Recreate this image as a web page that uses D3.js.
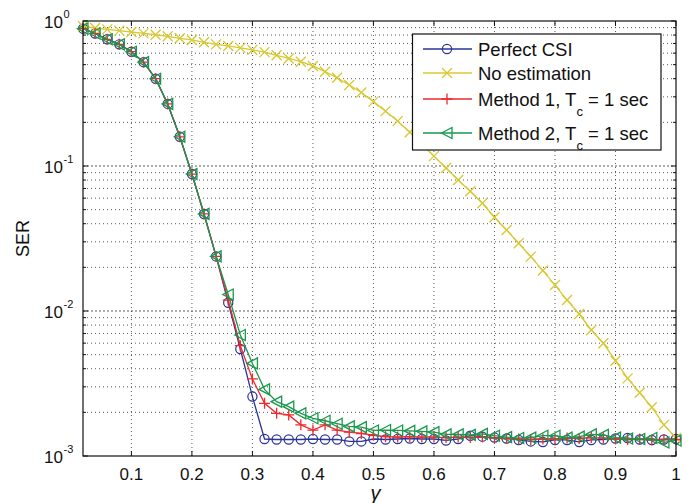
<!DOCTYPE html>
<html>
<head>
<meta charset="utf-8">
<script src="https://cdn.jsdelivr.net/npm/d3@7"></script>
<style>
  body { margin: 0; background: #fff; }
  text { font-family: "Liberation Sans", Arial, sans-serif; fill: #111; }
</style>
</head>
<body>
<div id="chart"></div>
<script>
var width = 693, height = 503;
var margin = {left: 83, right: 17, top: 21, bottom: 47};

// gamma values (x axis)
var gamma = [0.02, 0.04, 0.06, 0.08, 0.10, 0.12, 0.14, 0.16, 0.18, 0.20,
             0.22, 0.24, 0.26, 0.28, 0.30, 0.32, 0.34, 0.36, 0.38, 0.40,
             0.42, 0.44, 0.46, 0.48, 0.50, 0.52, 0.54, 0.56, 0.58, 0.60,
             0.62, 0.64, 0.66, 0.68, 0.70, 0.72, 0.74, 0.76, 0.78, 0.80,
             0.82, 0.84, 0.86, 0.88, 0.90, 0.92, 0.94, 0.96, 0.98, 1.00];

var perfectCSI = [0.885, 0.82, 0.748, 0.69, 0.614, 0.52, 0.40, 0.268, 0.159, 0.088,
                  0.0467, 0.0238, 0.0114, 0.00547, 0.00257, 0.00131, 0.00130, 0.00130, 0.00130, 0.00131,
                  0.00130, 0.00130, 0.00126, 0.00126, 0.00131, 0.00130, 0.00131, 0.00132, 0.00131, 0.00131,
                  0.00128, 0.00131, 0.00138, 0.00136, 0.00134, 0.00132, 0.00129, 0.00126, 0.00125, 0.00129,
                  0.00129, 0.00125, 0.00129, 0.00130, 0.00132, 0.00133, 0.00130, 0.00129, 0.00130, 0.00131];

var noEstimation = [0.92, 0.895, 0.876, 0.858, 0.84, 0.822, 0.804, 0.784, 0.76, 0.74,
                    0.713, 0.69, 0.673, 0.653, 0.632, 0.61, 0.58, 0.552, 0.524, 0.49,
                    0.447, 0.406, 0.362, 0.321, 0.278, 0.239, 0.204, 0.171, 0.142, 0.117,
                    0.097, 0.080, 0.067, 0.0553, 0.0443, 0.0362, 0.0293, 0.0237, 0.019, 0.0151,
                    0.0119, 0.00953, 0.0074, 0.00599, 0.00454, 0.00343, 0.00273, 0.00217, 0.00164, 0.00133];

var method1 = [0.885, 0.82, 0.748, 0.69, 0.614, 0.52, 0.40, 0.268, 0.159, 0.088,
               0.0467, 0.0238, 0.0119, 0.00577, 0.0034, 0.00231, 0.00197, 0.00192, 0.00164, 0.00151,
               0.00164, 0.00151, 0.00146, 0.00143, 0.00139, 0.00136, 0.00135, 0.00136, 0.00135, 0.00135,
               0.00134, 0.00135, 0.00134, 0.00135, 0.00133, 0.00132, 0.00131, 0.00130, 0.00131, 0.00131,
               0.00133, 0.00132, 0.00134, 0.00133, 0.00131, 0.00130, 0.00131, 0.00129, 0.00130, 0.00130];

var method2 = [0.885, 0.82, 0.748, 0.69, 0.614, 0.52, 0.40, 0.268, 0.159, 0.088,
               0.0467, 0.0238, 0.013, 0.00683, 0.00435, 0.00288, 0.00237, 0.00219, 0.00197, 0.00182,
               0.00175, 0.00167, 0.0016, 0.00158, 0.0015, 0.00151, 0.00150, 0.00149, 0.00148, 0.00146,
               0.00141, 0.00141, 0.00140, 0.00142, 0.00138, 0.00135, 0.00133, 0.00134, 0.00138, 0.00138,
               0.00134, 0.00136, 0.00141, 0.00140, 0.00134, 0.00132, 0.00131, 0.00133, 0.00124, 0.00128];

var xTicks = [0.1, 0.2, 0.3, 0.4, 0.5, 0.6, 0.7, 0.8, 0.9, 1];
var yTicks = [1e-3, 1e-2, 1e-1, 1];
var yExps = ["-3", "-2", "-1", "0"];

var series = [
  {name: "Perfect CSI", values: perfectCSI, color: "#2b3497", marker: "circle"},
  {name: "No estimation", values: noEstimation, color: "#d8c832", marker: "x"},
  {name: "Method 1, T", sub: "c", tail: " = 1 sec", values: method1, color: "#ee2a2e", marker: "plus"},
  {name: "Method 2, T", sub: "c", tail: " = 1 sec", values: method2, color: "#17994c", marker: "tri"}
];

var x = d3.scaleLinear().domain([0.02, 1]).range([margin.left, width - margin.right]);
var y = d3.scaleLog().domain([1e-3, 1]).range([height - margin.bottom, margin.top]);

var svg = d3.select("#chart").append("svg")
  .attr("width", width).attr("height", height);

var x0 = margin.left, x1 = width - margin.right, y0 = height - margin.bottom, y1 = margin.top;

// grid
var grid = svg.append("g").attr("stroke", "#333").attr("stroke-width", 0.8)
  .attr("stroke-dasharray", "1,3");
xTicks.forEach(function(t) {
  if (t >= 1) return;
  grid.append("line").attr("x1", x(t)).attr("x2", x(t)).attr("y1", y0).attr("y2", y1);
});
var minor = [];
[1e-3, 1e-2, 1e-1].forEach(function(d) {
  for (var k = 1; k <= 9; k++) minor.push(d * k);
});
minor.forEach(function(v) {
  if (v <= 1e-3) return;
  grid.append("line").attr("x1", x0).attr("x2", x1).attr("y1", y(v)).attr("y2", y(v))
    .attr("stroke-dasharray", (Math.abs(Math.log10(v) - Math.round(Math.log10(v))) < 1e-9) ? "2,2" : "1,3");
});

// ticks inside on all sides
var ticks = svg.append("g").attr("stroke", "#111").attr("stroke-width", 1);
xTicks.forEach(function(t) {
  ticks.append("line").attr("x1", x(t)).attr("x2", x(t)).attr("y1", y0).attr("y2", y0 - 5);
  ticks.append("line").attr("x1", x(t)).attr("x2", x(t)).attr("y1", y1).attr("y2", y1 + 5);
});
minor.concat([1]).forEach(function(v) {
  var major = Math.abs(Math.log10(v) - Math.round(Math.log10(v))) < 1e-9;
  var len = major ? 5 : 3;
  ticks.append("line").attr("x1", x0).attr("x2", x0 + len).attr("y1", y(v)).attr("y2", y(v));
  ticks.append("line").attr("x1", x1).attr("x2", x1 - len).attr("y1", y(v)).attr("y2", y(v));
});

// axis labels
svg.append("g").selectAll("text").data(xTicks).enter().append("text")
  .attr("x", function(d) { return x(d); })
  .attr("y", y0 + 24)
  .attr("text-anchor", "middle")
  .attr("font-size", 17)
  .text(function(d) { return d3.format("")(d); });

var yl = svg.append("g").selectAll("g").data(yTicks).enter().append("g");
yl.append("text")
  .attr("x", 63).attr("y", function(d) { return y(d) + 7; })
  .attr("text-anchor", "end").attr("font-size", 17).text("10");
yl.append("text")
  .attr("x", 63.5).attr("y", function(d) { return y(d) - 3; })
  .attr("font-size", 11).text(function(d, i) { return yExps[i]; });

svg.append("text")
  .attr("transform", "translate(29," + ((y0 + y1) / 2) + ") rotate(-90)")
  .attr("text-anchor", "middle").attr("font-size", 18).text("SER");

svg.append("text")
  .attr("x", (x0 + x1) / 2 - 4).attr("y", 500)
  .attr("text-anchor", "middle")
  .attr("font-family", "'Liberation Serif', 'DejaVu Serif', serif")
  .attr("font-style", "italic").attr("font-size", 20).text("γ");

// markers
function drawMarker(g, type, color) {
  if (type === "circle") {
    g.append("circle").attr("r", 4.6).attr("fill", "none").attr("stroke", color).attr("stroke-width", 1.2);
  } else if (type === "x") {
    g.append("path").attr("d", "M-5,-5L5,5M-5,5L5,-5").attr("stroke", color).attr("stroke-width", 1.3);
  } else if (type === "plus") {
    g.append("path").attr("d", "M-5.5,0L5.5,0M0,-5.5L0,5.5").attr("stroke", color).attr("stroke-width", 1.3);
  } else {
    g.append("path").attr("d", "M-5.5,0L5,-5.5L5,5.5Z").attr("fill", "none").attr("stroke", color).attr("stroke-width", 1.3);
  }
}

var line = d3.line()
  .x(function(d, i) { return x(gamma[i]); })
  .y(function(d) { return y(d); });

series.forEach(function(s) {
  var g = svg.append("g");
  g.append("path").attr("d", line(s.values)).attr("fill", "none")
    .attr("stroke", s.color).attr("stroke-width", 1.3);
  s.values.forEach(function(v, i) {
    var m = g.append("g").attr("transform", "translate(" + x(gamma[i]) + "," + y(v) + ")");
    drawMarker(m, s.marker, s.color);
  });
});

// plot frame
svg.append("rect").attr("x", x0).attr("y", y1).attr("width", x1 - x0).attr("height", y0 - y1)
  .attr("fill", "none").attr("stroke", "#111").attr("stroke-width", 1.2);

// legend
var leg = svg.append("g");
leg.append("rect").attr("x", 412.5).attr("y", 34).attr("width", 248.5).attr("height", 116)
  .attr("fill", "#fff").attr("stroke", "#111").attr("stroke-width", 1.2);
var legY = [49, 73, 99, 133];
series.forEach(function(s, i) {
  var ly = legY[i];
  leg.append("line").attr("x1", 423).attr("x2", 472).attr("y1", ly).attr("y2", ly)
    .attr("stroke", s.color).attr("stroke-width", 1.3);
  var m = leg.append("g").attr("transform", "translate(447," + ly + ")");
  drawMarker(m, s.marker, s.color);
  var t = leg.append("text").attr("x", 478).attr("y", ly + 6.5).attr("font-size", 18.5);
  t.append("tspan").text(s.name);
  if (s.sub) {
    t.append("tspan").attr("dy", 10).attr("font-size", 13).text(s.sub);
    t.append("tspan").attr("dy", -10).text(s.tail);
  }
});
</script>
</body>
</html>
